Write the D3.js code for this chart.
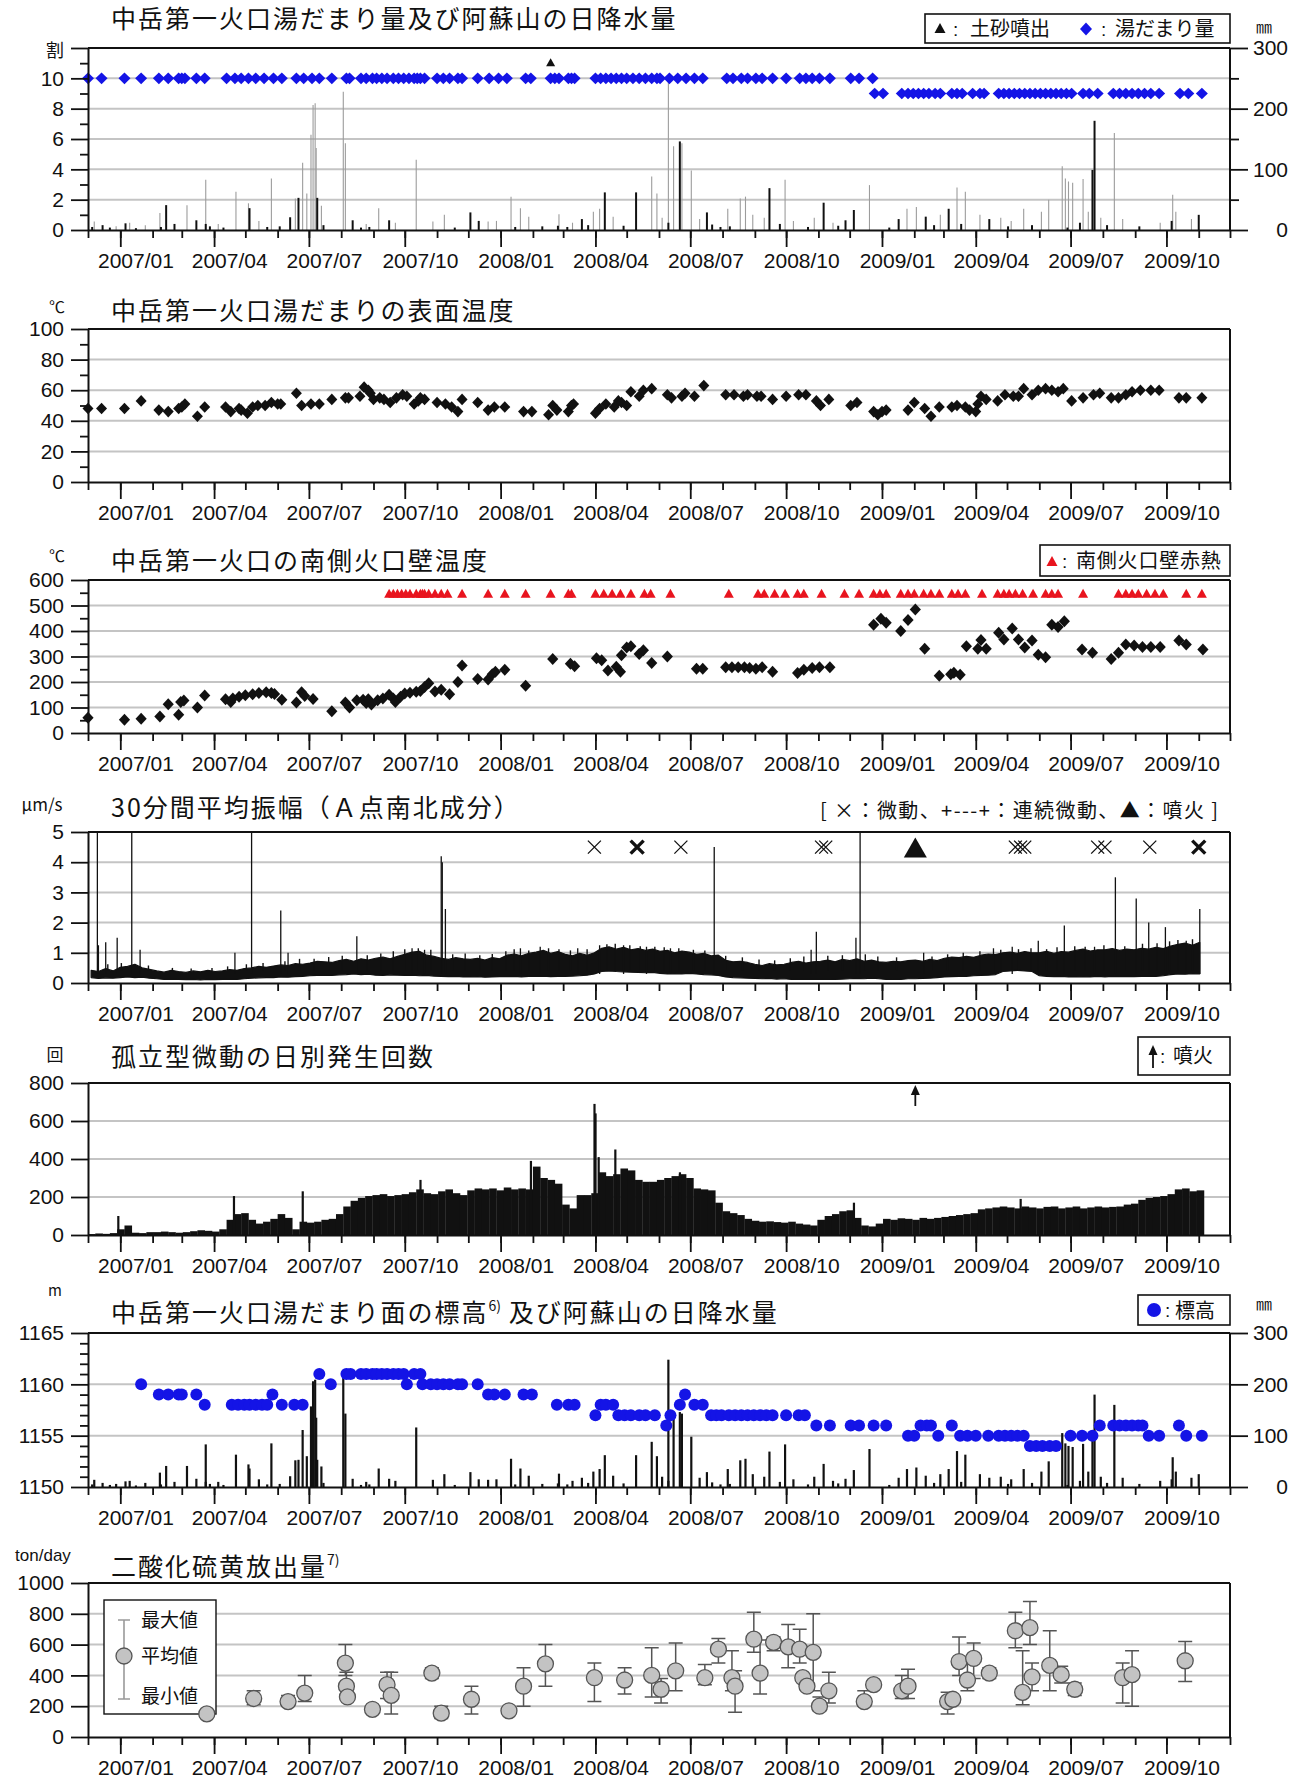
<!DOCTYPE html>
<html>
<head>
<meta charset="utf-8">
<script src="https://cdn.jsdelivr.net/npm/d3@7"></script>
<style>
  body { margin: 0; background: #fff; }
  svg { display: block; }
</style>
</head>
<body>
<svg id="chart" width="1303" height="1780"></svg>
<script>
// ---------- axis categories ----------
const quarterTicks = ["2007-01-01","2007-04-01","2007-07-01","2007-10-01","2008-01-01","2008-04-01",
                      "2008-07-01","2008-10-01","2009-01-01","2009-04-01","2009-07-01","2009-10-01"];
const quarterLabels = ["2007/01","2007/04","2007/07","2007/10","2008/01","2008/04",
                       "2008/07","2008/10","2009/01","2009/04","2009/07","2009/10"];

// ---------- 湯だまり量 (割) ----------
const poolAmount = [
["2006-12-01",10],["2006-12-14",10],["2007-01-05",10],["2007-01-21",10],["2007-02-07",10],["2007-02-16",10],
["2007-02-26",10],["2007-03-01",10],["2007-03-04",10],["2007-03-15",10],["2007-03-23",10],["2007-04-13",10],
["2007-04-21",10],["2007-04-27",10],["2007-05-04",10],["2007-05-11",10],["2007-05-19",10],["2007-05-28",10],
["2007-06-05",10],["2007-06-19",10],["2007-06-26",10],["2007-07-04",10],["2007-07-11",10],["2007-07-23",10],
["2007-08-06",10],["2007-08-09",10],["2007-08-20",10],["2007-08-25",10],["2007-08-31",10],["2007-09-04",10],
["2007-09-09",10],["2007-09-14",10],["2007-09-20",10],["2007-09-25",10],["2007-09-30",10],["2007-10-05",10],
["2007-10-10",10],["2007-10-13",10],["2007-10-16",10],["2007-10-20",10],["2007-11-01",10],["2007-11-07",10],
["2007-11-13",10],["2007-11-21",10],["2007-11-25",10],["2007-12-10",10],["2007-12-21",10],["2007-12-30",10],
["2008-01-07",10],["2008-01-25",10],["2008-01-30",10],["2008-02-18",10],["2008-02-22",10],["2008-02-26",10],
["2008-03-06",10],["2008-03-09",10],["2008-03-12",10],["2008-04-01",10],["2008-04-06",10],["2008-04-11",10],
["2008-04-16",10],["2008-04-21",10],["2008-04-26",10],["2008-05-01",10],["2008-05-07",10],["2008-05-13",10],
["2008-05-19",10],["2008-05-25",10],["2008-05-30",10],["2008-06-02",10],["2008-06-11",10],["2008-06-19",10],
["2008-06-27",10],["2008-07-05",10],["2008-07-13",10],["2008-08-05",10],["2008-08-11",10],["2008-08-19",10],
["2008-08-25",10],["2008-09-02",10],["2008-09-08",10],["2008-09-18",10],["2008-10-01",10],["2008-10-14",10],
["2008-10-20",10],["2008-10-26",10],["2008-11-02",10],["2008-11-12",10],["2008-12-02",10],["2008-12-10",10],
["2008-12-23",10],
["2008-12-25",9],["2009-01-02",9],["2009-01-20",9],["2009-01-26",9],["2009-01-31",9],["2009-02-05",9],
["2009-02-10",9],["2009-02-15",9],["2009-02-21",9],["2009-02-26",9],["2009-03-09",9],["2009-03-14",9],
["2009-03-19",9],["2009-03-29",9],["2009-04-05",9],["2009-04-09",9],["2009-04-23",9],["2009-04-28",9],
["2009-05-03",9],["2009-05-08",9],["2009-05-13",9],["2009-05-18",9],["2009-05-23",9],["2009-05-28",9],
["2009-06-02",9],["2009-06-07",9],["2009-06-12",9],["2009-06-17",9],["2009-06-22",9],["2009-06-27",9],
["2009-07-02",9],["2009-07-13",9],["2009-07-19",9],["2009-07-27",9],["2009-08-11",9],["2009-08-17",9],
["2009-08-23",9],["2009-08-29",9],["2009-09-04",9],["2009-09-10",9],["2009-09-16",9],["2009-09-24",9],
["2009-10-14",9],["2009-10-22",9],["2009-11-04",9]
];
// 土砂噴出 (date, 割 level of marker)
const sedimentEjection = [["2008-02-18",11]];

// ---------- 日降水量 (mm), two gauges ----------
const rainGaugeA = [
["2006-12-05",5],["2006-12-15",8],["2006-12-22",4],["2007-01-06",11],["2007-01-16",3],["2007-02-09",5],
["2007-02-14",41],["2007-02-22",10],["2007-03-15",16],["2007-03-24",10],["2007-03-28",6],["2007-04-10",4],
["2007-05-05",36],["2007-05-22",5],["2007-06-03",6],["2007-06-13",21],["2007-06-21",53],["2007-07-09",53],
["2007-07-15",8],["2007-08-12",16],["2007-08-20",4],["2007-08-28",5],["2007-09-16",16],["2007-11-18",4],
["2007-12-03",29],["2007-12-11",15],["2008-01-15",5],["2008-02-10",6],["2008-02-25",7],["2008-03-05",5],
["2008-03-19",18],["2008-03-25",8],["2008-04-10",62],["2008-04-28",7],["2008-05-10",62],["2008-06-10",12],
["2008-06-21",146],["2008-07-17",29],["2008-07-22",9],["2008-07-30",5],["2008-08-08",6],["2008-09-15",69],
["2008-09-25",10],["2008-10-22",5],["2008-11-06",45],["2008-11-20",7],["2008-11-27",16],["2008-12-05",33],
["2009-01-08",4],["2009-01-17",18],["2009-02-12",22],["2009-02-20",8],["2009-03-06",35],["2009-03-18",10],
["2009-04-14",18],["2009-05-02",6],["2009-05-25",8],["2009-06-28",4],["2009-07-10",12],["2009-07-22",99],
["2009-07-24",180],["2009-08-05",8],["2009-09-05",6],["2009-10-06",15],["2009-11-01",25]
];
const rainGaugeB = [
["2006-12-07",14],["2006-12-28",6],["2007-01-10",12],["2007-01-25",8],["2007-02-08",28],["2007-03-06",41],
["2007-03-24",83],["2007-04-05",10],["2007-04-22",63],["2007-05-04",44],["2007-05-14",15],["2007-05-26",85],
["2007-06-18",52],["2007-06-25",111],["2007-06-29",60],["2007-07-03",157],["2007-07-05",206],["2007-07-07",209],
["2007-07-08",135],["2007-07-13",40],["2007-08-03",228],["2007-08-05",143],["2007-08-25",10],["2007-09-06",36],
["2007-09-22",12],["2007-10-12",116],["2007-10-28",14],["2007-11-08",25],["2007-12-20",14],["2007-12-28",15],
["2008-01-11",55],["2008-01-20",36],["2008-01-28",22],["2008-02-26",26],["2008-03-10",12],["2008-03-30",30],
["2008-04-05",35],["2008-04-18",22],["2008-05-25",88],["2008-05-30",60],["2008-06-04",20],["2008-06-10",248],
["2008-06-15",138],["2008-06-23",143],["2008-07-02",98],["2008-07-10",18],["2008-08-06",35],["2008-08-18",52],
["2008-08-23",55],["2008-08-30",25],["2008-09-10",20],["2008-09-30",83],["2008-10-08",15],["2008-10-28",20],
["2008-11-15",12],["2008-12-20",74],["2009-01-25",35],["2009-02-03",38],["2009-02-26",25],["2009-03-14",70],
["2009-03-22",63],["2009-04-05",25],["2009-04-25",20],["2009-05-05",15],["2009-05-17",35],["2009-06-03",30],
["2009-06-10",50],["2009-06-23",105],["2009-06-26",85],["2009-06-29",80],["2009-07-03",78],["2009-07-13",84],
["2009-07-18",30],["2009-07-30",20],["2009-08-12",160],["2009-08-20",18],["2009-09-25",12],["2009-10-07",58],
["2009-10-10",30],["2009-10-25",18]
];

// ---------- 湯だまり表面温度 (℃) ----------
const surfaceTemp = [
["2006-12-01",48],["2006-12-14",48],["2007-01-05",48],["2007-01-21",53],["2007-02-07",47],["2007-02-16",46],
["2007-02-26",48],["2007-03-01",49],["2007-03-04",51],["2007-03-16",43],["2007-03-23",49],["2007-04-12",49],
["2007-04-17",46],["2007-04-25",48],["2007-04-27",47],["2007-05-03",45],["2007-05-08",49],["2007-05-13",50],
["2007-05-20",50],["2007-05-26",52],["2007-06-01",51],["2007-06-04",51],["2007-06-19",58],["2007-06-24",50],
["2007-07-03",51],["2007-07-11",51],["2007-07-23",54],["2007-08-05",55],["2007-08-08",55],["2007-08-19",56],
["2007-08-23",62],["2007-08-27",60],["2007-08-29",58],["2007-09-01",54],["2007-09-07",55],["2007-09-11",54],
["2007-09-17",52],["2007-09-23",55],["2007-09-29",57],["2007-10-03",56],["2007-10-10",51],["2007-10-14",53],
["2007-10-16",55],["2007-10-20",54],["2007-11-01",52],["2007-11-09",51],["2007-11-15",49],["2007-11-21",46],
["2007-11-25",54],["2007-12-10",52],["2007-12-20",47],["2007-12-26",49],["2008-01-05",49],["2008-01-23",46],
["2008-01-31",46],["2008-02-16",44],["2008-02-20",50],["2008-02-24",47],["2008-03-06",46],["2008-03-09",50],
["2008-03-11",51],["2008-04-01",45],["2008-04-05",48],["2008-04-11",51],["2008-04-19",49],["2008-04-23",53],
["2008-04-26",52],["2008-05-01",50],["2008-05-05",59],["2008-05-13",56],["2008-05-17",60],["2008-05-25",61],
["2008-06-09",57],["2008-06-13",55],["2008-06-23",56],["2008-06-26",58],["2008-07-05",56],["2008-07-14",63],
["2008-08-04",57],["2008-08-12",57],["2008-08-21",56],["2008-08-25",57],["2008-09-03",56],["2008-09-07",56],
["2008-09-18",54],["2008-10-01",56],["2008-10-13",57],["2008-10-20",57],["2008-10-30",53],["2008-11-03",50],
["2008-11-11",54],["2008-12-02",50],["2008-12-08",52],["2008-12-24",46],["2008-12-28",44],["2009-01-01",46],
["2009-01-05",47],["2009-01-26",47],["2009-02-01",52],["2009-02-11",48],["2009-02-17",43],["2009-02-25",49],
["2009-03-09",49],["2009-03-14",50],["2009-03-22",49],["2009-03-26",47],["2009-04-01",46],["2009-04-03",51],
["2009-04-06",56],["2009-04-11",54],["2009-04-22",53],["2009-04-29",57],["2009-05-07",56],["2009-05-12",56],
["2009-05-17",61],["2009-05-25",57],["2009-05-31",60],["2009-06-07",61],["2009-06-13",60],["2009-06-19",59],
["2009-06-24",61],["2009-07-02",53],["2009-07-13",55],["2009-07-23",57],["2009-07-29",58],["2009-08-09",55],
["2009-08-16",55],["2009-08-23",57],["2009-08-29",59],["2009-09-06",60],["2009-09-16",60],["2009-09-24",60],
["2009-10-13",55],["2009-10-20",55],["2009-11-04",55]
];

// ---------- 南側火口壁温度 (℃) ----------
const wallTemp = [
["2006-12-01",60],["2007-01-05",52],["2007-01-21",56],["2007-02-08",65],["2007-02-16",113],["2007-02-26",72],
["2007-02-28",122],["2007-03-03",127],["2007-03-16",100],["2007-03-23",147],["2007-04-12",132],["2007-04-17",122],
["2007-04-19",135],["2007-04-25",142],["2007-05-01",148],["2007-05-08",152],["2007-05-14",157],["2007-05-21",160],
["2007-05-26",157],["2007-05-29",153],["2007-06-05",130],["2007-06-19",120],["2007-06-24",160],["2007-06-27",145],
["2007-07-05",133],["2007-07-23",85],["2007-08-05",120],["2007-08-09",100],["2007-08-16",128],["2007-08-22",130],
["2007-08-25",118],["2007-08-27",132],["2007-08-30",112],["2007-09-05",128],["2007-09-10",135],["2007-09-16",150],
["2007-09-20",135],["2007-09-22",122],["2007-09-27",142],["2007-10-01",155],["2007-10-06",158],["2007-10-12",162],
["2007-10-16",165],["2007-10-20",180],["2007-10-24",195],["2007-10-30",163],["2007-11-05",170],["2007-11-13",152],
["2007-11-21",200],["2007-11-25",265],["2007-12-10",212],["2007-12-20",210],["2007-12-24",230],["2007-12-27",240],
["2008-01-05",248],["2008-01-25",185],["2008-02-20",290],["2008-03-08",272],["2008-03-12",262],["2008-04-02",293],
["2008-04-07",285],["2008-04-13",245],["2008-04-21",260],["2008-04-25",240],["2008-04-26",305],["2008-05-01",335],
["2008-05-05",340],["2008-05-13",310],["2008-05-17",325],["2008-05-25",275],["2008-06-09",300],["2008-07-07",252],
["2008-07-13",252],["2008-08-04",258],["2008-08-10",258],["2008-08-16",258],["2008-08-22",258],["2008-08-27",255],
["2008-09-02",252],["2008-09-08",258],["2008-09-18",240],["2008-10-12",235],["2008-10-18",248],["2008-10-26",255],
["2008-11-02",258],["2008-11-12",258],["2008-12-24",425],["2008-12-31",448],["2009-01-05",432],["2009-01-19",400],
["2009-01-26",443],["2009-02-02",484],["2009-02-11",330],["2009-02-25",225],["2009-03-08",230],["2009-03-11",236],
["2009-03-17",228],["2009-03-23",340],["2009-04-03",330],["2009-04-06",365],["2009-04-11",330],["2009-04-23",393],
["2009-04-28",367],["2009-05-06",410],["2009-05-12",367],["2009-05-18",335],["2009-05-25",363],["2009-05-31",307],
["2009-06-07",297],["2009-06-13",425],["2009-06-19",416],["2009-06-25",438],["2009-07-12",327],["2009-07-22",315],
["2009-08-09",290],["2009-08-16",315],["2009-08-23",347],["2009-08-31",343],["2009-09-08",337],["2009-09-16",337],
["2009-09-25",337],["2009-10-13",363],["2009-10-20",347],["2009-11-05",327]
];
// 南側火口壁赤熱 observed dates
const glowDates = [
"2007-09-16","2007-09-20","2007-09-24","2007-09-28","2007-10-02","2007-10-06","2007-10-12","2007-10-16",
"2007-10-18","2007-10-20","2007-10-24","2007-10-30","2007-11-05","2007-11-11","2007-11-25","2007-12-20",
"2008-01-05","2008-01-25","2008-02-18","2008-03-06","2008-03-09","2008-04-01","2008-04-09","2008-04-17",
"2008-04-25","2008-05-05","2008-05-18","2008-05-24","2008-06-12","2008-08-07","2008-09-04","2008-09-10",
"2008-09-20","2008-09-30","2008-10-12","2008-10-18","2008-11-04","2008-11-26","2008-12-10","2008-12-24",
"2008-12-30","2009-01-05","2009-01-19","2009-01-26","2009-02-01","2009-02-10","2009-02-17","2009-02-25",
"2009-03-09","2009-03-15","2009-03-22","2009-04-07","2009-04-22","2009-04-28","2009-05-03","2009-05-09",
"2009-05-16","2009-05-26","2009-06-07","2009-06-13","2009-06-19","2009-07-13","2009-08-16","2009-08-23",
"2009-08-29","2009-09-04","2009-09-12","2009-09-20","2009-09-28","2009-10-20","2009-11-04"
];

// ---------- 30分間平均振幅 (μm/s): weekly envelope from 2006-12-01 ----------
const ampWeekStart = "2006-12-01";
const ampHigh = [
.42,.38,.48,.40,.52, .55,.62,.50,.45, .40,.36,.42,.38, .35,.40,.37,.42,.38, .40,.44,.42,.48,
.50,.55,.52,.56, .60,.58,.64,.62, .66,.72,.70,.68,.74, .78,.72,.80,.76, .82,.86,.80,.88,
.95,1.02,1.05,.92,.88, .82,.78,.84,.80, .78,.82,.76,.84,.80, .92,.96,.90,.98, 1.02,1.08,.98,1.04,
.95,.90,.98,.92,1.00, 1.15,1.20,1.12,1.18, 1.10,1.14,1.08,1.12, 1.05,1.08,1.00,1.06,1.02,
.95,.98,.90,.92, .75,.70,.72,.68, .62,.58,.64,.60,.62, .68,.72,.66,.70, .72,.76,.70,.78,
.74,.80,.72,.76,.70, .68,.72,.70,.74, .76,.72,.78,.74, .82,.86,.84,.88,.85, .92,.96,.94,1.00,
1.02,.98,1.04,1.00, 1.00,1.05,.98,1.04,1.02, 1.08,1.12,1.06,1.10, 1.10,1.14,1.08,1.12,1.10,
1.15,1.12,1.18,1.14, 1.22,1.28,1.32,1.25,1.35
];
const ampLow = [
.18,.15,.17,.16,.18, .20,.18,.19,.16, .14,.12,.13,.12, .11,.12,.10,.12,.11, .12,.13,.12,.14,
.16,.17,.18,.18, .20,.19,.21,.22, .24,.25,.26,.25,.27, .28,.30,.28,.29, .26,.25,.27,.26,
.25,.26,.24,.25,.23, .22,.21,.22,.20, .20,.21,.19,.20,.21, .21,.22,.20,.22, .22,.23,.21,.22,
.22,.23,.24,.26,.30, .38,.40,.38,.37, .36,.35,.34,.35, .32,.30,.31,.30,.32,
.30,.28,.27,.25, .20,.18,.17,.16, .15,.14,.15,.13,.14, .12,.13,.12,.12, .12,.13,.12,.13,
.14,.15,.14,.16,.14, .12,.13,.12,.14, .14,.15,.16,.18, .20,.21,.22,.22,.24, .25,.26,.28,.38,
.40,.42,.40,.38, .24,.22,.21,.22,.20, .20,.21,.20,.22, .20,.22,.21,.22,.21,
.22,.23,.22,.24, .28,.30,.29,.31,.30
];
// isolated large values in the 30-minute averages
const ampSpikes = [
["2006-12-10",5],["2006-12-11",1.25],["2006-12-18",1.35],["2006-12-29",1.5],["2007-01-12",5],["2007-01-20",1.1],
["2007-04-21",1.0],["2007-05-07",5],["2007-06-04",2.4],["2007-06-11",1.0],["2007-08-16",1.55],["2007-10-08",1.15],
["2007-10-20",1.1],["2007-11-05",4.2],["2007-11-06",4.0],["2007-11-09",2.45],["2008-01-20",1.15],["2008-02-08",1.2],
["2008-03-15",1.15],["2008-04-05",1.25],["2008-04-28",1.25],["2008-05-20",1.2],["2008-06-12",1.15],["2008-07-24",4.5],
["2008-10-25",1.1],["2008-10-30",1.7],["2008-12-07",1.5],["2008-12-11",5],["2009-02-10",1.0],["2009-04-18",1.15],
["2009-05-06",1.2],["2009-05-31",1.4],["2009-06-25",1.9],["2009-07-24",1.2],["2009-08-13",3.5],["2009-09-02",2.8],
["2009-09-14",2.0],["2009-09-30",1.85],["2009-10-20",1.4],["2009-11-02",2.45]
];
// smaller excursions that roughen the top of the trace
const ampRipples = [
["2006-12-20",.62],["2007-01-02",.66],["2007-01-28",.58],["2007-02-20",.5],["2007-03-10",.48],["2007-03-30",.5],
["2007-04-14",.55],["2007-05-02",.62],["2007-05-18",.66],["2007-06-08",.72],["2007-06-22",.8],["2007-07-06",.8],
["2007-07-20",.86],["2007-08-02",.9],["2007-08-26",.92],["2007-09-08",.98],["2007-09-20",1.05],["2007-10-01",1.12],
["2007-10-14",1.15],["2007-10-26",1.1],["2007-11-16",.95],["2007-11-28",.98],["2007-12-12",.92],["2007-12-24",.96],
["2008-01-06",1.05],["2008-01-14",1.12],["2008-01-28",1.08],["2008-02-16",1.15],["2008-02-26",1.12],["2008-03-08",1.08],
["2008-03-24",1.12],["2008-04-12",1.28],["2008-04-20",1.3],["2008-05-04",1.25],["2008-05-14",1.22],["2008-05-28",1.2],
["2008-06-06",1.18],["2008-06-20",1.15],["2008-07-04",1.1],["2008-07-15",1.08],["2008-08-04",.9],["2008-08-20",.85],
["2008-09-05",.78],["2008-09-20",.75],["2008-10-05",.82],["2008-10-18",.88],["2008-11-10",.9],["2008-11-24",.92],
["2008-12-16",.95],["2008-12-28",.88],["2009-01-15",.85],["2009-02-18",.88],["2009-03-05",.95],["2009-03-20",1.0],
["2009-04-05",1.05],["2009-04-25",1.1],["2009-05-12",1.12],["2009-05-24",1.15],["2009-06-08",1.12],["2009-06-18",1.18],
["2009-07-05",1.22],["2009-07-15",1.2],["2009-08-02",1.25],["2009-08-22",1.22],["2009-09-08",1.3],["2009-09-22",1.32],
["2009-10-04",1.38],["2009-10-12",1.42],["2009-10-26",1.45]
];
// 微動 events (bold = several on the same day)
const tremorEvents = [
["2008-03-31","thin"],["2008-05-11","bold"],["2008-06-22","thin"],["2008-11-04","thin"],["2008-11-08","thin"],
["2009-05-09","thin"],["2009-05-14","thin"],["2009-05-18","thin"],["2009-07-27","thin"],["2009-08-03","thin"],
["2009-09-15","thin"],["2009-11-01","bold"]
];
const eruptionDates = ["2009-02-02"];

// ---------- 孤立型微動の日別発生回数: weekly level from 2006-12-01 ----------
const tremorWeekly = [
5,8,6,10,30, 50,12,10,15, 15,18,15,12, 15,20,25,22,18, 30,80,110,115,
80,60,70,85, 110,90,30,70, 65,70,80,85,110, 150,180,195,205, 210,215,205,210,
215,225,240,220,215, 230,240,220,210, 235,245,240,245,235, 250,240,245,240, 360,300,290,270,
160,140,210,210,220, 330,310,320,350, 340,290,280,280, 290,300,310,320,300,
245,240,235,170, 125,115,105,85, 75,70,72,68,65, 70,60,55,50, 80,100,110,125,
130,90,50,45,60, 85,80,88,85, 80,90,85,90, 95,100,105,110,115, 135,140,145,150,
145,140,150,145, 140,148,150,140,145, 150,140,145,150, 145,148,150,160,165,
185,195,200,205, 215,240,245,230,235
];
const tremorPeaks = [
["2006-12-30",100],["2007-04-20",205],["2007-06-25",230],["2007-10-16",290],["2008-01-30",390],
["2008-03-31",690],["2008-04-01",640],["2008-04-04",410],["2008-04-20",450],["2008-06-21",330],
["2008-12-05",170],["2009-05-14",190]
];

// ---------- 湯だまり面の標高 (m) ----------
const poolElevation = [
["2007-01-21",1160],["2007-02-07",1159],["2007-02-16",1159],["2007-02-26",1159],["2007-03-01",1159],["2007-03-15",1159],
["2007-03-23",1158],["2007-04-18",1158],["2007-04-24",1158],["2007-04-30",1158],["2007-05-05",1158],["2007-05-11",1158],
["2007-05-17",1158],["2007-05-22",1158],["2007-05-27",1159],["2007-06-05",1158],["2007-06-17",1158],["2007-06-25",1158],
["2007-07-11",1161],["2007-07-22",1160],["2007-08-06",1161],["2007-08-10",1161],["2007-08-20",1161],["2007-08-25",1161],
["2007-08-31",1161],["2007-09-04",1161],["2007-09-09",1161],["2007-09-14",1161],["2007-09-20",1161],["2007-09-25",1161],
["2007-09-30",1161],["2007-10-03",1160],["2007-10-10",1161],["2007-10-16",1161],["2007-10-18",1160],["2007-10-26",1160],
["2007-11-01",1160],["2007-11-07",1160],["2007-11-13",1160],["2007-11-21",1160],["2007-11-25",1160],["2007-12-10",1160],
["2007-12-20",1159],["2007-12-26",1159],["2008-01-05",1159],["2008-01-23",1159],["2008-01-31",1159],["2008-02-24",1158],
["2008-03-06",1158],["2008-03-12",1158],["2008-04-01",1157],["2008-04-06",1158],["2008-04-11",1158],["2008-04-18",1158],
["2008-04-23",1157],["2008-04-29",1157],["2008-05-05",1157],["2008-05-13",1157],["2008-05-19",1157],["2008-05-28",1157],
["2008-06-08",1156],["2008-06-12",1157],["2008-06-21",1158],["2008-06-26",1159],["2008-07-05",1158],["2008-07-13",1158],
["2008-07-21",1157],["2008-07-26",1157],["2008-07-31",1157],["2008-08-07",1157],["2008-08-13",1157],["2008-08-19",1157],
["2008-08-25",1157],["2008-08-31",1157],["2008-09-06",1157],["2008-09-12",1157],["2008-09-18",1157],["2008-10-01",1157],
["2008-10-13",1157],["2008-10-19",1157],["2008-10-30",1156],["2008-11-12",1156],["2008-12-02",1156],["2008-12-10",1156],
["2008-12-24",1156],["2009-01-05",1156],["2009-01-26",1155],["2009-02-01",1155],["2009-02-07",1156],["2009-02-13",1156],
["2009-02-17",1156],["2009-02-24",1155],["2009-03-09",1156],["2009-03-17",1155],["2009-03-24",1155],["2009-04-01",1155],
["2009-04-13",1155],["2009-04-23",1155],["2009-04-29",1155],["2009-05-05",1155],["2009-05-11",1155],["2009-05-17",1155],
["2009-05-23",1154],["2009-05-29",1154],["2009-06-04",1154],["2009-06-11",1154],["2009-06-17",1154],["2009-07-01",1155],
["2009-07-12",1155],["2009-07-22",1155],["2009-07-29",1156],["2009-08-11",1156],["2009-08-17",1156],["2009-08-23",1156],
["2009-08-29",1156],["2009-09-04",1156],["2009-09-08",1156],["2009-09-14",1155],["2009-09-24",1155],["2009-10-13",1156],
["2009-10-20",1155],["2009-11-04",1155]
];

// ---------- 二酸化硫黄放出量 (ton/day): date, mean, min, max ----------
const so2Emission = [
["2007-03-25",150,130,170],["2007-05-09",250,210,300],["2007-06-11",230,200,270],["2007-06-27",285,230,400],
["2007-08-05",480,400,600],["2007-08-06",330,260,420],["2007-08-07",260,260,260],["2007-08-31",180,180,180],
["2007-09-14",340,250,420],["2007-09-18",270,150,420],["2007-10-27",415,380,450],["2007-11-05",155,120,200],
["2007-12-04",245,150,330],["2008-01-09",170,170,170],["2008-01-23",330,200,450],["2008-02-13",475,330,600],
["2008-03-31",385,230,480],["2008-04-29",370,280,450],["2008-05-25",400,260,580],["2008-06-03",310,220,380],
["2008-06-17",430,300,610],["2008-07-15",385,340,470],["2008-07-28",570,480,640],["2008-08-10",385,300,560],
["2008-08-13",330,160,430],["2008-08-31",635,550,810],["2008-09-06",415,280,630],["2008-09-19",615,560,650],
["2008-10-03",585,450,730],["2008-10-14",570,480,700],["2008-10-17",385,385,385],["2008-10-21",330,330,330],
["2008-10-27",550,300,800],["2008-11-02",200,170,260],["2008-11-11",300,220,420],["2008-12-15",230,200,300],
["2008-12-24",340,340,340],["2009-01-20",300,250,400],["2009-01-26",330,250,440],["2009-03-05",230,150,290],
["2009-03-10",245,245,245],["2009-03-16",490,400,650],["2009-03-24",370,300,480],["2009-03-30",510,380,610],
["2009-04-14",415,380,450],["2009-05-09",690,580,810],["2009-05-16",290,210,560],["2009-05-23",710,600,880],
["2009-05-25",390,300,480],["2009-06-11",465,300,690],["2009-06-22",405,350,460],["2009-07-05",310,270,350],
["2009-08-20",385,220,480],["2009-08-29",405,200,560],["2009-10-19",495,360,620]
];

// =====================================================================
const parse = d3.utcParse("%Y-%m-%d");
const svg = d3.select("#chart");
const FONT_NUM = '"Liberation Sans", Arial, sans-serif';
const FONT_JP = '"Noto Sans CJK JP", "Noto Sans CJK SC", sans-serif';
const INK = "#111";
const BLUE = "#1414e6";
const X0 = 88, X1 = 1230;

const x = d3.scaleUtc().domain([parse("2006-12-01"), parse("2009-12-01")]).range([X0, X1]);
const quarterDates = quarterTicks.map(parse);
const monthDates = d3.utcMonth.range(parse("2006-12-01"), parse("2009-12-02"));

const diamondPath = (w, h) => `M0,${-h}L${w},0L0,${h}L${-w},0Z`;
const trianglePath = (w, h) => `M0,${-h * 0.6}L${w / 2},${h * 0.4}L${-w / 2},${h * 0.4}Z`;

function text(g, str, xx, yy, opt = {}) {
  return g.append("text").attr("x", xx).attr("y", yy)
    .attr("font-family", opt.family || FONT_JP)
    .attr("font-size", opt.size || 20)
    .attr("text-anchor", opt.anchor || "start")
    .attr("letter-spacing", opt.spacing || 0)
    .attr("fill", opt.fill || INK)
    .text(str);
}

function title(str, yy, sup) {
  const t = text(svg, str, 111, yy, { size: 25, spacing: 2 });
  if (sup) {
    t.text(null);
    t.append("tspan").text(sup.before);
    t.append("tspan").attr("font-size", 14).attr("dy", -11).attr("letter-spacing", 0).text(sup.mark);
    t.append("tspan").attr("dy", 11).text(sup.after);
  }
}

function makePanel(p) {
  const y = d3.scaleLinear().domain(p.domain).range([p.bottom, p.top]);
  const g = svg.append("g");
  g.append("g").selectAll("line").data(p.grid).join("line")
    .attr("x1", X0).attr("x2", X1).attr("y1", d => y(d)).attr("y2", d => y(d))
    .attr("stroke", "#c4c4c4").attr("stroke-width", 2);
  const under = g.append("g");
  const data = g.append("g");
  const ax = g.append("g");
  return { y, g, under, data, ax, p };
}

function finishPanel(P) {
  const { y, ax, p } = P;
  ax.append("line").attr("x1", X0).attr("x2", X1).attr("y1", p.top).attr("y2", p.top)
    .attr("stroke", INK).attr("stroke-width", 2);
  ax.append("line").attr("x1", X1).attr("x2", X1).attr("y1", p.top).attr("y2", p.bottom)
    .attr("stroke", INK).attr("stroke-width", 2);

  const left = ax.append("g").attr("transform", `translate(${X0},0)`)
    .call(d3.axisLeft(y).tickValues(p.major).tickSize(17).tickSizeOuter(0).tickPadding(7)
      .tickFormat(p.fmt || (d => d)));
  if (p.minor) {
    ax.append("g").attr("transform", `translate(${X0},0)`)
      .call(d3.axisLeft(y).tickValues(p.minor).tickSize(8).tickSizeOuter(0).tickFormat(""))
      .call(s => s.select(".domain").remove());
  }
  ax.append("g").attr("transform", `translate(0,${p.bottom})`)
    .call(d3.axisBottom(x).tickValues(quarterDates).tickSize(17).tickSizeOuter(0).tickFormat(""));
  ax.append("g").attr("transform", `translate(0,${p.bottom})`)
    .call(d3.axisBottom(x).tickValues(monthDates).tickSize(8).tickSizeOuter(0).tickFormat(""))
    .call(s => s.select(".domain").remove());

  ax.append("g").selectAll("text").data(quarterDates).join("text")
    .attr("x", d => x(d3.utcDay.offset(d, 15)))
    .attr("y", p.bottom + 37.5)
    .attr("text-anchor", "middle")
    .attr("font-family", FONT_NUM).attr("font-size", 21).attr("fill", INK)
    .text((d, i) => quarterLabels[i]);

  ax.selectAll(".domain").attr("stroke", INK).attr("stroke-width", 2);
  ax.selectAll(".tick line").attr("stroke", INK).attr("stroke-width", 1.8);
  ax.selectAll(".tick text").attr("font-family", FONT_NUM).attr("font-size", 21).attr("fill", INK);
  return left;
}

function rightAxis(P, yR, major, minor) {
  const gR = P.ax.append("g").attr("transform", `translate(${X1},0)`)
    .call(d3.axisRight(yR).tickValues(major).tickSize(18).tickSizeOuter(0).tickPadding(0));
  gR.select(".domain").remove();
  gR.selectAll(".tick text").attr("text-anchor", "end").attr("x", 58)
    .attr("font-family", FONT_NUM).attr("font-size", 21).attr("fill", INK);
  gR.selectAll(".tick line").attr("stroke", INK).attr("stroke-width", 1.8);
  if (minor) {
    const gm = P.ax.append("g").attr("transform", `translate(${X1},0)`)
      .call(d3.axisRight(yR).tickValues(minor).tickSize(9).tickSizeOuter(0).tickFormat(""));
    gm.select(".domain").remove();
    gm.selectAll(".tick line").attr("stroke", INK).attr("stroke-width", 1.8);
  }
}

function rainBars(g, yR, series, color, width) {
  g.selectAll(null).data(series).join("line")
    .attr("x1", d => x(parse(d[0]))).attr("x2", d => x(parse(d[0])))
    .attr("y1", yR(0)).attr("y2", d => yR(d[1]))
    .attr("stroke", color).attr("stroke-width", width);
}

function legendBox(x0, y0, w, h) {
  svg.append("rect").attr("x", x0).attr("y", y0).attr("width", w).attr("height", h)
    .attr("fill", "#fff").attr("stroke", INK).attr("stroke-width", 1.6);
}

// ===================== Panel 1 =====================
title("中岳第一火口湯だまり量及び阿蘇山の日降水量", 28);
const P1 = makePanel({ top: 48, bottom: 230, domain: [0, 12], grid: [2, 4, 6, 8, 10],
  major: [0, 2, 4, 6, 8, 10, 12], minor: [1, 3, 5, 7, 9, 11], fmt: d => d === 12 ? "割" : d });
const rain1 = d3.scaleLinear().domain([0, 300]).range([230, 48]);
rainBars(P1.data, rain1, rainGaugeB, "#9c9c9c", 1.1);
rainBars(P1.data, rain1, rainGaugeA, INK, 2);
P1.data.selectAll(null).data(poolAmount).join("path")
  .attr("d", diamondPath(6, 5.8))
  .attr("transform", d => `translate(${x(parse(d[0]))},${P1.y(d[1])})`)
  .attr("fill", BLUE);
P1.data.selectAll(null).data(sedimentEjection).join("path")
  .attr("d", trianglePath(9, 8))
  .attr("transform", d => `translate(${x(parse(d[0]))},${P1.y(d[1])})`)
  .attr("fill", INK);
const left1 = finishPanel(P1);
left1.selectAll(".tick text").filter(d => d === 12)
  .attr("font-family", FONT_JP).attr("font-size", 18).attr("dy", "0.45em");
rightAxis(P1, rain1, [0, 100, 200, 300], [50, 150, 250]);
text(svg, "㎜", 1264, 33, { size: 16, anchor: "middle" });
legendBox(925, 14, 305, 29);
svg.append("path").attr("d", trianglePath(11, 10)).attr("transform", "translate(940,29)").attr("fill", INK);
text(svg, ":", 953, 36, { size: 19, family: FONT_NUM });
text(svg, "土砂噴出", 970, 36, { size: 20 });
svg.append("path").attr("d", diamondPath(6, 6.5)).attr("transform", "translate(1086,29)").attr("fill", BLUE);
text(svg, ":", 1101, 36, { size: 19, family: FONT_NUM });
text(svg, "湯だまり量", 1115, 36, { size: 20 });

// ===================== Panel 2 =====================
title("中岳第一火口湯だまりの表面温度", 320);
text(svg, "℃", 57, 313, { size: 16, anchor: "middle" });
const P2 = makePanel({ top: 329, bottom: 482, domain: [0, 100], grid: [20, 40, 60, 80],
  major: [0, 20, 40, 60, 80, 100], minor: [10, 30, 50, 70, 90] });
P2.data.selectAll(null).data(surfaceTemp).join("path")
  .attr("d", diamondPath(5.5, 5.8))
  .attr("transform", d => `translate(${x(parse(d[0]))},${P2.y(d[1])})`)
  .attr("fill", INK);
finishPanel(P2);

// ===================== Panel 3 =====================
title("中岳第一火口の南側火口壁温度", 570);
text(svg, "℃", 57, 562, { size: 16, anchor: "middle" });
const P3 = makePanel({ top: 580, bottom: 733, domain: [0, 600], grid: [100, 200, 300, 400, 500],
  major: [0, 100, 200, 300, 400, 500, 600], minor: [50, 150, 250, 350, 450, 550] });
const GLOW_ROW = 545;
P3.data.selectAll(null).data(glowDates).join("path")
  .attr("d", trianglePath(10, 9))
  .attr("transform", d => `translate(${x(parse(d))},${P3.y(GLOW_ROW)})`)
  .attr("fill", "#e8141e");
P3.data.selectAll(null).data(wallTemp).join("path")
  .attr("d", diamondPath(5.6, 6))
  .attr("transform", d => `translate(${x(parse(d[0]))},${P3.y(d[1])})`)
  .attr("fill", INK);
finishPanel(P3);
legendBox(1040, 545, 190, 31);
svg.append("path").attr("d", trianglePath(11, 10)).attr("transform", "translate(1052,562)").attr("fill", "#e8141e");
text(svg, ":", 1062, 568, { size: 19, family: FONT_NUM });
text(svg, "南側火口壁赤熱", 1076, 568, { size: 20, spacing: 0.8 });

// ===================== Panel 4 =====================
title("30分間平均振幅（Ａ点南北成分）", 817);
text(svg, "μm/s", 42, 811, { size: 17, anchor: "middle" });
const P4 = makePanel({ top: 832, bottom: 983, domain: [0, 5], grid: [1, 2, 3, 4],
  major: [0, 1, 2, 3, 4, 5] });
const w0 = parse(ampWeekStart);
const ampBand = ampHigh.map((h, i) => ({ date: d3.utcDay.offset(w0, 7 * i + 3), hi: h, lo: ampLow[i] }));
P4.data.append("path").datum(ampBand)
  .attr("d", d3.area().x(d => x(d.date)).y0(d => P4.y(d.lo)).y1(d => P4.y(d.hi)))
  .attr("fill", INK).attr("stroke", INK).attr("stroke-width", 1.2).attr("stroke-linejoin", "bevel");
P4.data.selectAll(null).data(ampRipples).join("line")
  .attr("x1", d => x(parse(d[0]))).attr("x2", d => x(parse(d[0])))
  .attr("y1", P4.y(0.4)).attr("y2", d => P4.y(d[1]))
  .attr("stroke", INK).attr("stroke-width", 1.4);
P4.data.selectAll(null).data(ampSpikes).join("line")
  .attr("x1", d => x(parse(d[0]))).attr("x2", d => x(parse(d[0])))
  .attr("y1", P4.y(0.3)).attr("y2", d => P4.y(d[1]))
  .attr("stroke", INK).attr("stroke-width", 1.3);
const MARK_ROW = 4.5;
P4.data.selectAll(null).data(tremorEvents).join("path")
  .attr("d", "M-6.5,-6.5L6.5,6.5M-6.5,6.5L6.5,-6.5")
  .attr("transform", d => `translate(${x(parse(d[0]))},${P4.y(MARK_ROW)})`)
  .attr("stroke", INK).attr("stroke-width", d => d[1] === "bold" ? 3.4 : 1.3).attr("fill", "none");
P4.data.selectAll(null).data(eruptionDates).join("path")
  .attr("d", trianglePath(23, 20))
  .attr("transform", d => `translate(${x(parse(d))},${P4.y(4.42)})`)
  .attr("fill", INK);
finishPanel(P4);
svg.append("text").attr("x", 820).attr("y", 818)
  .attr("font-family", FONT_JP).attr("font-size", 20).attr("fill", INK)
  .attr("textLength", 398).attr("lengthAdjust", "spacing")
  .text("[ ×：微動、+---+：連続微動、▲：噴火 ]");

// ===================== Panel 5 =====================
title("孤立型微動の日別発生回数", 1066);
text(svg, "回", 55, 1061, { size: 17, anchor: "middle" });
const P5 = makePanel({ top: 1083, bottom: 1235, domain: [0, 800], grid: [200, 400, 600],
  major: [0, 200, 400, 600, 800] });
P5.data.selectAll(null).data(tremorWeekly).join("rect")
  .attr("x", (v, i) => x(d3.utcDay.offset(w0, 7 * i)))
  .attr("width", (v, i) => x(d3.utcDay.offset(w0, 7 * i + 7)) - x(d3.utcDay.offset(w0, 7 * i)) + 0.3)
  .attr("y", v => P5.y(v)).attr("height", v => P5.y(0) - P5.y(v))
  .attr("fill", INK);
P5.data.selectAll(null).data(tremorPeaks).join("rect")
  .attr("x", d => x(parse(d[0])) - 1).attr("width", 2.2)
  .attr("y", d => P5.y(d[1])).attr("height", d => P5.y(0) - P5.y(d[1]))
  .attr("fill", INK);
eruptionDates.forEach(d => {
  const ex = x(parse(d));
  P5.data.append("line").attr("x1", ex).attr("x2", ex).attr("y1", 1092).attr("y2", 1106)
    .attr("stroke", INK).attr("stroke-width", 1.8);
  P5.data.append("path").attr("d", `M${ex},1085L${ex + 4.5},1095L${ex - 4.5},1095Z`).attr("fill", INK);
});
finishPanel(P5);
legendBox(1138, 1037, 92, 38);
svg.append("line").attr("x1", 1153).attr("x2", 1153).attr("y1", 1052).attr("y2", 1068)
  .attr("stroke", INK).attr("stroke-width", 1.8);
svg.append("path").attr("d", "M1153,1045L1157.5,1055L1148.5,1055Z").attr("fill", INK);
text(svg, ":", 1160, 1063, { size: 19, family: FONT_NUM });
text(svg, "噴火", 1173, 1063, { size: 20 });

// ===================== Panel 6 =====================
title(null, 1322, { before: "中岳第一火口湯だまり面の標高", mark: "6)", after: " 及び阿蘇山の日降水量" });
text(svg, "m", 55, 1296, { size: 15, anchor: "middle" });
text(svg, "㎜", 1264, 1310, { size: 16, anchor: "middle" });
const P6 = makePanel({ top: 1333, bottom: 1487, domain: [1150, 1165], grid: [1155, 1160],
  major: [1150, 1155, 1160, 1165],
  minor: d3.range(1151, 1165).filter(v => v % 5 !== 0) });
const rain6 = d3.scaleLinear().domain([0, 300]).range([1487, 1333]);
rainBars(P6.data, rain6, rainGaugeB, INK, 2.2);
rainBars(P6.data, rain6, rainGaugeA, INK, 2.2);
P6.data.selectAll(null).data(poolElevation).join("circle")
  .attr("cx", d => x(parse(d[0]))).attr("cy", d => P6.y(d[1])).attr("r", 6)
  .attr("fill", BLUE);
finishPanel(P6);
rightAxis(P6, rain6, [0, 100, 200, 300]);
legendBox(1138, 1295, 92, 30);
svg.append("circle").attr("cx", 1154).attr("cy", 1310).attr("r", 7).attr("fill", BLUE);
text(svg, ":", 1165, 1317, { size: 19, family: FONT_NUM });
text(svg, "標高", 1175, 1318, { size: 20 });

// ===================== Panel 7 =====================
title(null, 1576, { before: "二酸化硫黄放出量", mark: "7)", after: "" });
text(svg, "ton/day", 43, 1561, { size: 17, anchor: "middle", family: FONT_NUM });
const P7 = makePanel({ top: 1583, bottom: 1737, domain: [0, 1000], grid: [200, 400, 600, 800],
  major: [0, 200, 400, 600, 800, 1000] });
// legend panel drawn beneath the measurements
P7.under.append("rect").attr("x", 104).attr("y", 1600).attr("width", 112).attr("height", 114)
  .attr("fill", "#fff").attr("stroke", INK).attr("stroke-width", 1.4);
P7.under.append("path").attr("d", "M118,1620H130M124,1620V1699M118,1699H130")
  .attr("stroke", "#9a9a9a").attr("stroke-width", 1.6).attr("fill", "none");
P7.under.append("circle").attr("cx", 124).attr("cy", 1656).attr("r", 8)
  .attr("fill", "#c3c3c3").attr("stroke", "#555").attr("stroke-width", 1.3);
text(P7.under, "最大値", 141, 1627, { size: 19 });
text(P7.under, "平均値", 141, 1663, { size: 19 });
text(P7.under, "最小値", 141, 1703, { size: 19 });

const so2 = so2Emission.filter(d => d[3] > d[2]);
P7.data.selectAll(null).data(so2).join("path")
  .attr("d", d => {
    const cx = x(parse(d[0])), yT = P7.y(d[3]), yB = P7.y(d[2]);
    return `M${cx - 7},${yT}H${cx + 7}M${cx},${yT}V${yB}M${cx - 7},${yB}H${cx + 7}`;
  })
  .attr("stroke", "#555").attr("stroke-width", 1.5).attr("fill", "none");
P7.data.selectAll(null).data(so2Emission).join("circle")
  .attr("cx", d => x(parse(d[0]))).attr("cy", d => P7.y(d[1])).attr("r", 8)
  .attr("fill", "#c3c3c3").attr("stroke", "#555").attr("stroke-width", 1.3);
finishPanel(P7);
</script>
</body>
</html>
